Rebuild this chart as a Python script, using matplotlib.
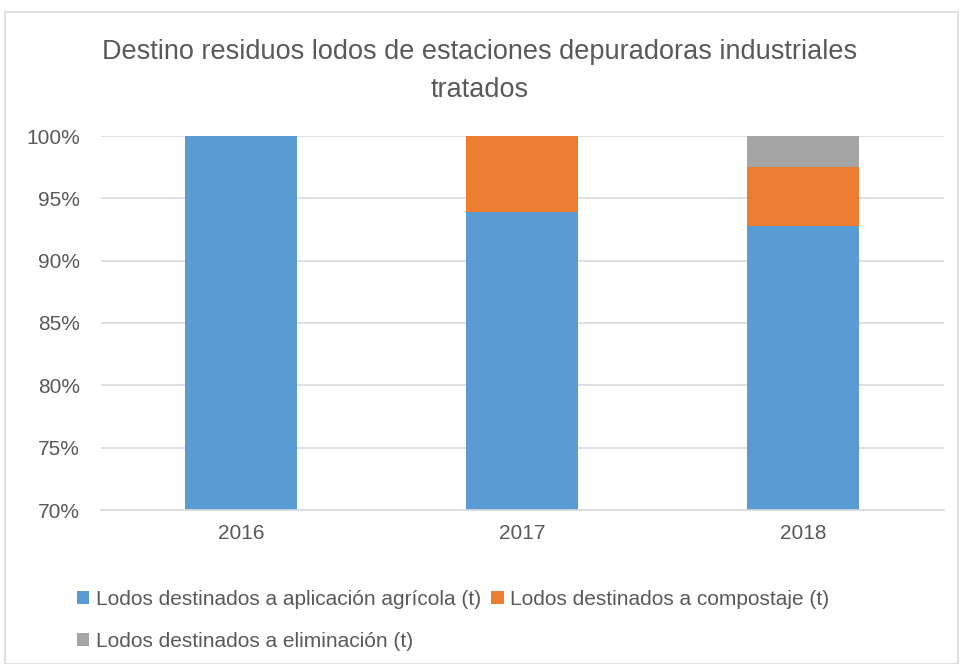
import matplotlib
matplotlib.use('Agg')
import matplotlib.pyplot as plt
from matplotlib.patches import Rectangle
from matplotlib.ticker import PercentFormatter

plt.rcParams['font.family'] = ['Liberation Sans', 'DejaVu Sans']

years = ['2016', '2017', '2018']
agricola = [100.0, 93.93, 92.79]
compostaje = [0.0, 6.07, 4.69]
eliminacion = [0.0, 0.0, 2.52]
labels = ['Lodos destinados a aplicación agrícola (t)',
          'Lodos destinados a compostaje (t)',
          'Lodos destinados a eliminación (t)']
colors = ['#5b9bd5', '#ed7d31', '#a5a5a5']
txt = '#595959'

fig = plt.figure(figsize=(9.6, 6.64), dpi=100)
ax = fig.add_axes([100.5 / 960, 1 - 510 / 664, 843 / 960, 374 / 664])

x = range(len(years))
b1 = ax.bar(x, agricola, width=0.4, color=colors[0], label=labels[0], zorder=2)
bottom2 = agricola
b2 = ax.bar(x, compostaje, width=0.4, bottom=bottom2, color=colors[1], label=labels[1], zorder=2)
bottom3 = [a + c for a, c in zip(agricola, compostaje)]
b3 = ax.bar(x, eliminacion, width=0.4, bottom=bottom3, color=colors[2], label=labels[2], zorder=2)

ax.set_ylim(70, 100)
ax.set_xlim(-0.5, 2.5)
ax.set_yticks(range(70, 101, 5))
ax.yaxis.set_major_formatter(PercentFormatter(decimals=0))
ax.grid(axis='y', color='#d9d9d9', linewidth=1.2, zorder=0)
ax.set_xticks(list(x))
ax.set_xticklabels(years)
for s in ['top', 'right', 'left']:
    ax.spines[s].set_visible(False)
ax.spines['bottom'].set_color('#d9d9d9')
ax.spines['bottom'].set_linewidth(1.2)
ax.tick_params(length=0, colors=txt, labelsize=15)
ax.tick_params(axis='y', pad=15)
ax.tick_params(axis='x', pad=10)

fig.text(0.5, 1 - 71 / 664, 'Destino residuos lodos de estaciones depuradoras industriales\ntratados',
         ha='center', va='center', fontsize=19.5, color=txt, linespacing=1.6)

# column-major order so the third item sits under the first
fig.legend(handles=[b1, b3, b2], labels=[labels[0], labels[2], labels[1]], ncol=2,
           loc='upper left', bbox_to_anchor=(58 / 960, 1 - 571 / 664), frameon=False,
           fontsize=15, labelcolor=txt, handlelength=0.6, handleheight=0.6,
           handletextpad=0.3, columnspacing=0.5, labelspacing=1.1)

fig.patches.append(Rectangle((5 / 960, 0), 953 / 960, 1 - 12 / 664, transform=fig.transFigure,
                             fill=False, edgecolor='#d9d9d9', linewidth=1.2))

fig.savefig('out.png', dpi=100)
